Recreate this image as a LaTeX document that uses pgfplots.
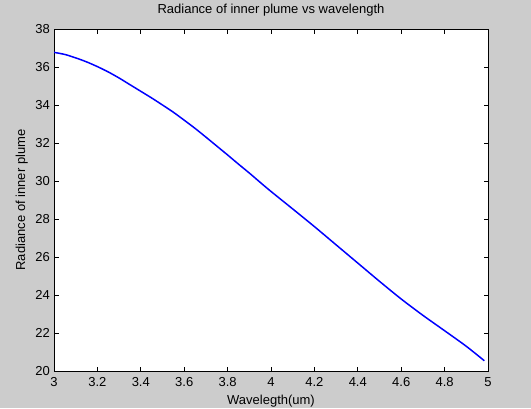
\documentclass[border=0pt]{standalone}
\usepackage{pgfplots}
\pgfplotsset{compat=1.18}
\usepackage{fontspec}
\setmainfont{Liberation Sans}
\definecolor{figgray}{RGB}{204,204,204}
\begin{document}
\begin{tikzpicture}[x=1pt,y=1pt]
\fill[figgray] (0,0) rectangle (531,408);
\useasboundingbox (0,0) rectangle (531,408);
\begin{axis}[
  at={(54pt,37pt)}, anchor=south west,
  scale only axis, width=434pt, height=342pt,
  xmin=3, xmax=5, ymin=20, ymax=38,
  xtick={3,3.2,3.4,3.6,3.8,4,4.2,4.4,4.6,4.8,5},
  xticklabels={3,3.2,3.4,3.6,3.8,4,4.2,4.4,4.6,4.8,5},
  ytick={20,22,24,26,28,30,32,34,36,38},
  axis background/.style={fill=white},
  axis line style={line width=0.8pt},
  tick style={line width=0.8pt, black},
  tick align=inside, major tick length=4.5pt, tick pos=both,
  /pgf/number format/assume math mode=true,
  tick label style={font=\fontsize{13}{15}\selectfont},
  xticklabel style={anchor=base, inner sep=0pt, yshift=-15pt},
  yticklabel style={anchor=east, inner sep=0pt, xshift=-4pt},
  title={Radiance of inner plume vs wavelength},
  title style={at={(0.5,1.0292)}, anchor=base, inner sep=0pt, font=\fontsize{13}{15}\selectfont},
  xlabel={Wavelegth(um)},
  xlabel style={at={(0.5,-0.0965)}, anchor=base, inner sep=0pt, font=\fontsize{13}{15}\selectfont},
  ylabel={Radiance of inner plume},
  ylabel style={at={(-0.0668,0.5)}, anchor=base, inner sep=0pt, font=\fontsize{13}{15}\selectfont},
]
\addplot[color={rgb,255:red,0;green,0;blue,255}, line width=1.5pt, smooth] coordinates {
(3.00,36.77) (3.05,36.66) (3.10,36.48) (3.15,36.27) (3.20,36.02) (3.25,35.74)
(3.30,35.42) (3.35,35.07) (3.40,34.72) (3.45,34.37) (3.50,34.00) (3.55,33.62)
(3.60,33.20) (3.65,32.77) (3.70,32.31) (3.75,31.84) (3.80,31.37) (3.85,30.89)
(3.90,30.42) (3.95,29.93) (4.00,29.45) (4.10,28.53) (4.20,27.60) (4.30,26.64)
(4.40,25.68) (4.50,24.72) (4.60,23.79) (4.70,22.93) (4.80,22.12) (4.90,21.30)
(4.983,20.54)
};
\end{axis}
\end{tikzpicture}
\end{document}
